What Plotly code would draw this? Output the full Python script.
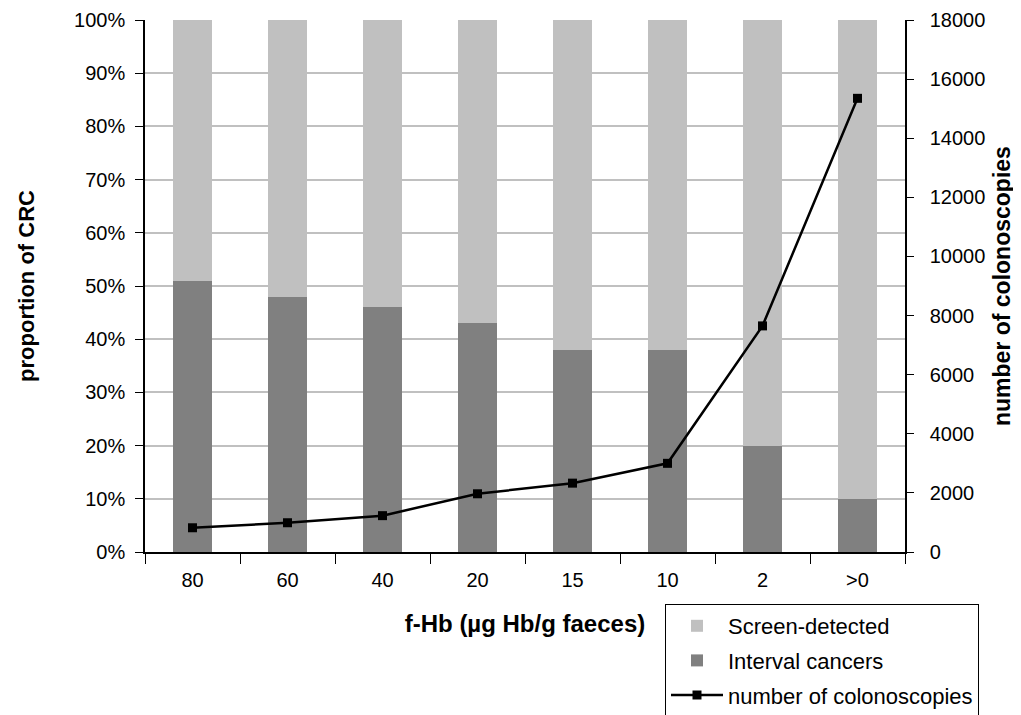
import plotly.graph_objects as go

categories = ["80", "60", "40", "20", "15", "10", "2", ">0"]
interval_pct = [51, 48, 46, 43, 38, 38, 20, 10]
screen_pct = [100 - v for v in interval_pct]
colonoscopies = [820, 990, 1230, 1970, 2330, 3000, 7650, 15350]

FONT = "Liberation Sans, Arial, sans-serif"

fig = go.Figure()
fig.add_trace(go.Bar(x=categories, y=interval_pct, name="Interval cancers",
                     marker=dict(color="#808080", line=dict(width=0)),
                     legendgroup="b", legendrank=2))
fig.add_trace(go.Bar(x=categories, y=screen_pct, name="Screen-detected",
                     marker=dict(color="#C0C0C0", line=dict(width=0)),
                     legendgroup="a", legendrank=1))
fig.add_trace(go.Scatter(x=categories, y=colonoscopies, name="number of colonoscopies",
                         mode="lines+markers", yaxis="y2",
                         line=dict(color="black", width=2.5),
                         marker=dict(symbol="square", size=9, color="black"),
                         legendgroup="c", legendrank=3))

W, H = 1013, 707
fig.update_layout(
    width=W, height=H,
    margin=dict(l=137, r=116, t=12, b=163, autoexpand=False),
    paper_bgcolor="white", plot_bgcolor="white",
    font=dict(family=FONT, size=20, color="black"),
    barmode="stack", bargap=0.59,
    xaxis=dict(
        showline=True, linecolor="black", linewidth=1.5, showgrid=False,
        ticks="outside", ticklen=10, tickcolor="black", tickson="boundaries",
        tickfont=dict(size=20), ticklabelstandoff=9,
        title=dict(text="<b>f-Hb (µg Hb/g faeces)</b>", font=dict(size=24), standoff=25),
    ),
    yaxis=dict(
        range=[0, 100], tickvals=list(range(0, 101, 10)),
        ticktext=[f"{v}%" for v in range(0, 101, 10)],
        showgrid=True, gridcolor="#C0C0C0", gridwidth=1.5,
        showline=True, linecolor="black", linewidth=1.5,
        ticks="outside", ticklen=8, tickcolor="black", ticklabelstandoff=6,
        zeroline=False, tickfont=dict(size=20),
        title=dict(text="<b>proportion of CRC</b>", font=dict(size=22), standoff=33),
    ),
    yaxis2=dict(
        overlaying="y", side="right", range=[0, 18000],
        tickvals=list(range(0, 18001, 2000)), tickformat="d",
        showgrid=False, zeroline=False,
        showline=True, linecolor="black", linewidth=1.5,
        ticks="outside", ticklen=7, tickcolor="black", tickfont=dict(size=20),
        ticklabelstandoff=12,
    ),
    annotations=[dict(
        text="<b>number of colonoscopies</b>", textangle=-90,
        xref="paper", yref="paper", x=1, y=0.5, xanchor="center", yanchor="middle",
        xshift=97, showarrow=False, font=dict(size=23),
    )],
    legend=dict(
        xref="container", yref="container",
        x=(665 - 8) / W, y=1 - (604 - 8) / H, xanchor="left", yanchor="top",
        bordercolor="black", borderwidth=1, bgcolor="white",
        traceorder="grouped", tracegroupgap=3,
        font=dict(size=22), itemwidth=52,
    ),
)

fig.write_html("out.html")
